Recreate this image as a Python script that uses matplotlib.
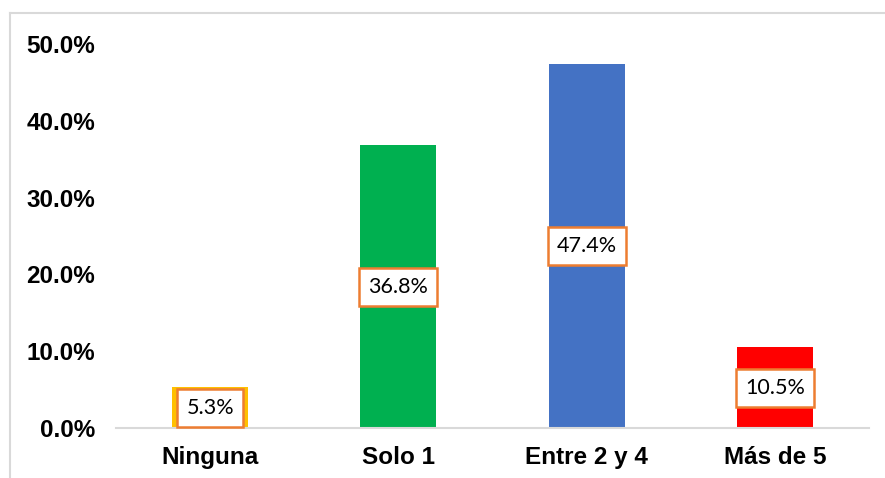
import matplotlib.pyplot as plt
from matplotlib.lines import Line2D
from matplotlib.ticker import FuncFormatter

categories = ['Ninguna', 'Solo 1', 'Entre 2 y 4', 'Más de 5']
values = [5.3, 36.8, 47.4, 10.5]
colors = ['#FFC000', '#00B050', '#4472C4', '#FF0000']
yticks = [0, 10, 20, 30, 40, 50]

W, H = 885, 478
fig = plt.figure(figsize=(W / 100, H / 100), dpi=100)

# plot area in pixels: x 116..869, y 44..428
ax = fig.add_axes([116 / W, 1 - 428 / H, (869 - 116) / W, (428 - 44) / H])

x = range(len(categories))
ax.bar(x, values, width=0.405, color=colors, zorder=2)

ax.set_xlim(-0.5, len(categories) - 0.5)
ax.set_ylim(0, 50)
ax.set_yticks(yticks)
ax.yaxis.set_major_formatter(FuncFormatter(lambda v, p: f'{v:.1f}%'))
ax.set_xticks(list(x))
ax.set_xticklabels(categories)

for lbl in ax.get_xticklabels() + ax.get_yticklabels():
    lbl.set_fontfamily('Liberation Sans')
    lbl.set_fontweight('bold')
    lbl.set_fontsize(17.5)
    lbl.set_color('black')

ax.tick_params(axis='both', length=0)
ax.tick_params(axis='y', pad=15)
ax.tick_params(axis='x', pad=13)

for side in ['top', 'right', 'left']:
    ax.spines[side].set_visible(False)
ax.spines['bottom'].set_color('#D9D9D9')
ax.spines['bottom'].set_linewidth(1.5)

# data labels centered in the bars
for xi, v in zip(x, values):
    ax.text(xi, v / 2, f'{v}%', ha='center', va='center', fontsize=15.5,
            family='Lato', color='black', zorder=3,
            bbox=dict(boxstyle='square,pad=0.42', facecolor='white',
                      edgecolor='#ED7D31', linewidth=1.8))

# outer chart frame (cropped on right and bottom)
fig.add_artist(Line2D([10 / W, 10 / W], [0, 1 - 13 / H], color='#D9D9D9', lw=1.5))
fig.add_artist(Line2D([10 / W, 1], [1 - 13 / H, 1 - 13 / H], color='#D9D9D9', lw=1.5))

fig.savefig('out.png', dpi=100)
